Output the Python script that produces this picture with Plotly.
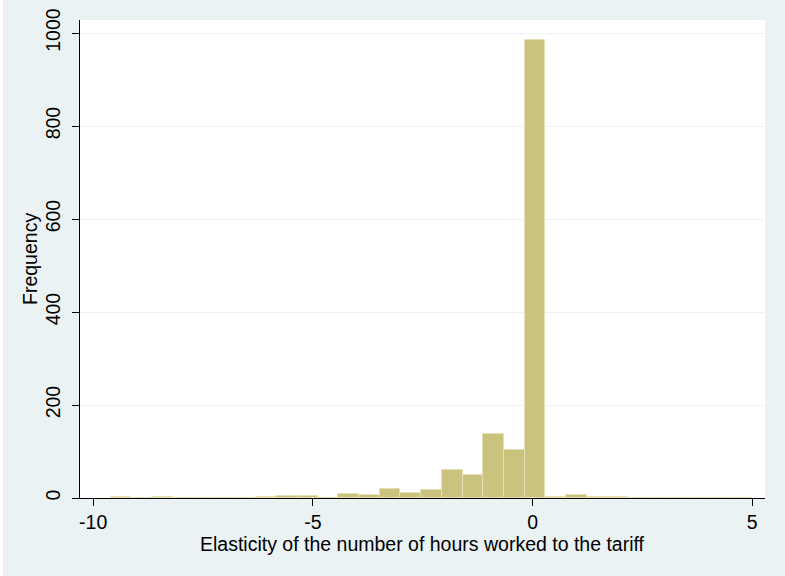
import plotly.graph_objects as go

# Histogram data (Stata-style, 31 bins)
bin_start = -9.6
bin_end = 5.0
n_bins = 31
counts = [2, 0, 2, 0, 0, 0, 0, 2, 4, 5,
          1, 8, 6, 20, 10, 17, 60, 50, 137, 103,
          986, 2, 6, 2, 2, 0, 1, 1, 1, 0, 1]

x_ticks = [-10, -5, 0, 5]
y_ticks = [0, 200, 400, 600, 800, 1000]
x_title = "Elasticity of the number of hours worked to the tariff"
y_title = "Frequency"

bin_width = (bin_end - bin_start) / n_bins
centers = [bin_start + (i + 0.5) * bin_width for i in range(n_bins)]

BG = "#EAF2F3"
BAR = "#C9C37E"
BAR_LINE = "#E4E0B2"
FONT = "Liberation Sans, Arial, sans-serif"
FS = 19.5

fig = go.Figure()
fig.add_trace(go.Bar(
    x=centers, y=counts, width=bin_width,
    marker=dict(color=BAR, line=dict(color=BAR_LINE, width=1)),
    hoverinfo="x+y",
))

W, H = 785, 576
L, R, T, B = 80, 20, 20, 78
pw = W - L - R
ph = H - T - B

fig.update_layout(
    width=W, height=H,
    margin=dict(l=L, r=R, t=T, b=B, pad=0, autoexpand=False),
    paper_bgcolor=BG,
    plot_bgcolor="white",
    showlegend=False,
    bargap=0,
    font=dict(family=FONT, size=FS, color="black"),
    xaxis=dict(
        range=[-10.3, 5.29],
        tickvals=x_ticks,
        ticktext=[str(v) for v in x_ticks],
        ticks="outside", ticklen=7, tickcolor="black", tickwidth=1,
        showline=True, linecolor="black", linewidth=1,
        showgrid=False, zeroline=False,
        tickfont=dict(size=FS),
        automargin=False,
    ),
    yaxis=dict(
        range=[0, 1028],
        tickvals=y_ticks,
        ticks="outside", ticklen=7, tickcolor="black", tickwidth=1,
        tickangle=-90,
        ticklabelstandoff=4,
        showline=True, linecolor="black", linewidth=1,
        showgrid=True, gridcolor=BG, gridwidth=1,
        zeroline=False,
        tickfont=dict(size=FS),
        automargin=False,
    ),
    annotations=[
        dict(text=x_title, xref="paper", yref="paper",
             x=0.5, y=-(544 - (T + ph)) / ph, xanchor="center", yanchor="middle",
             showarrow=False, font=dict(size=FS)),
        dict(text=y_title, xref="paper", yref="paper",
             x=-(L - 30) / pw, y=0.5, xanchor="center", yanchor="middle",
             textangle=-90, showarrow=False, font=dict(size=FS)),
    ],
    shapes=[
        dict(type="rect", xref="paper", yref="paper",
             x0=-L / pw, x1=-(L - 3) / pw, y0=-B / ph, y1=(ph + T) / ph,
             fillcolor="white", line=dict(width=0), layer="above"),
    ],
)

fig.write_html("out.html", config={"displayModeBar": False},
               post_script="document.body.style.margin='0';document.body.style.overflow='hidden';")
